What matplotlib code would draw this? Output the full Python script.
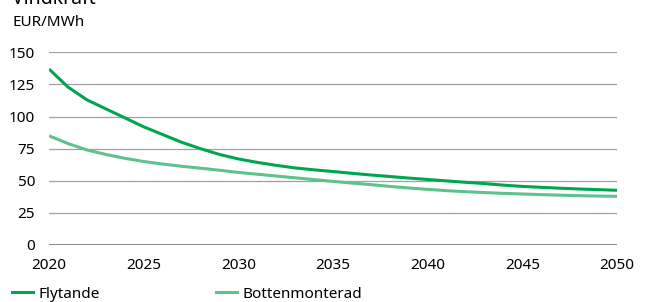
import matplotlib
matplotlib.use("Agg")
import matplotlib.pyplot as plt
from matplotlib.lines import Line2D

plt.rcParams['font.family'] = ['Noto Sans', 'DejaVu Sans']

# Data
years = list(range(2020, 2051))
flytande = [137, 123, 113, 106, 99, 92, 86, 80, 75, 70.5,
            67, 64.3, 62, 60, 58.5, 57.2, 55.8, 54.5, 53.3, 52.1,
            51, 49.9, 48.8, 47.8, 46.6, 45.6, 44.9, 44.2, 43.6, 43.1, 42.6]
bottenmonterad = [85, 79, 74, 70.5, 67.5, 65, 63, 61.3, 59.8, 58.2,
                  56.5, 55.1, 53.7, 52.3, 50.9, 49.5, 48.2, 47, 45.6, 44.4,
                  43.3, 42.3, 41.5, 40.8, 40.2, 39.7, 39.2, 38.8, 38.4, 38.1, 37.9]
yticks = [0, 25, 50, 75, 100, 125, 150]
xticks = [2020, 2025, 2030, 2035, 2040, 2045, 2050]

c_fly = '#00A54F'
c_bot = '#5DC28B'

fig = plt.figure(figsize=(6.45, 3.02), dpi=100)
ax = fig.add_axes([49 / 645, 57 / 302, 568 / 645, 192.7 / 302])

for y in yticks[1:]:
    ax.axhline(y, color='#a0a0a0', lw=0.9, zorder=1)
ax.axhline(0, color='#6a6a6a', lw=1.8, zorder=1)

ax.plot(years, bottenmonterad, color=c_bot, lw=2.2, zorder=3, solid_capstyle='butt')
ax.plot(years, flytande, color=c_fly, lw=2.2, zorder=3, solid_capstyle='butt')

ax.set_xlim(2020, 2050)
ax.set_ylim(0, 150)
ax.set_yticks(yticks)
ax.set_xticks(xticks)
ax.tick_params(length=0, labelsize=11, colors='black')
ax.tick_params(axis='y', pad=10)
ax.tick_params(axis='x', pad=9.5)
for s in ax.spines.values():
    s.set_visible(False)

fig.text(12 / 645, 1 - 4 / 302, 'Vindkraft', fontsize=14, fontweight='bold',
         ha='left', va='baseline')
fig.text(12 / 645, 1 - 22.5 / 302, 'EUR/MWh', fontsize=11, ha='left', va='center')

for name, col, x0 in [('Flytande', c_fly, 12), ('Bottenmonterad', c_bot, 216)]:
    fig.legend([Line2D([], [], color=col, lw=2.2)], [name], loc='center left',
               bbox_to_anchor=(x0 / 645, 1 - 294 / 302), frameon=False,
               fontsize=11, handlelength=1.4, handletextpad=0.35,
               borderaxespad=0, borderpad=0)

fig.savefig('out.png', dpi=100)
